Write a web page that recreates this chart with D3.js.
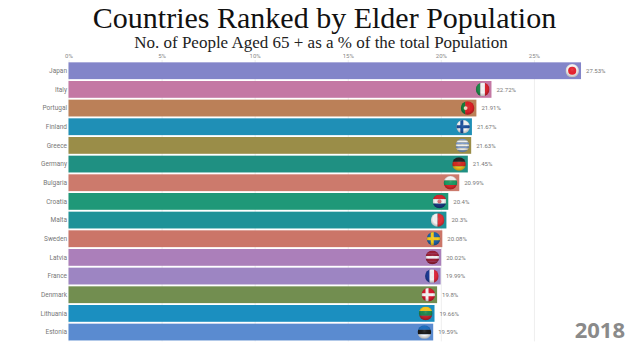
<!DOCTYPE html>
<html>
<head>
<meta charset="utf-8">
<script src="https://cdn.jsdelivr.net/npm/d3@7"></script>
<style>
  html, body { margin: 0; padding: 0; background: #fff; }
  svg { display: block; }
  .tick text { font-family: Roboto, sans-serif; }
</style>
</head>
<body>
<div id="chart"></div>
<script>
// Values
var countries = ["Japan", "Italy", "Portugal", "Finland", "Greece", "Germany", "Bulgaria", "Croatia", "Malta", "Sweden", "Latvia", "France", "Denmark", "Lithuania", "Estonia"];
var shares = [27.53, 22.72, 21.91, 21.67, 21.63, 21.45, 20.99, 20.4, 20.3, 20.08, 20.02, 19.99, 19.8, 19.66, 19.59];
var barColors = ["#8385c9", "#c478a4", "#bb8058", "#1f8fb6", "#9a8d48", "#1f9082", "#cc7a6c", "#1f9878", "#1f9298", "#cb7568", "#ab7fba", "#9d85c2", "#728e50", "#1b8fc0", "#5a8bd0"];
var tickValues = [0, 5, 10, 15, 20, 25];
var year = "2018";

// Flag colours, stripes run "h" or "v", cross and disc are drawn on top
var flags = {
    Japan: { dir: "h", stripes: ["#f4f4f4"], disc: "#e8222e", discSize: 0.6 },
    Italy: { dir: "v", stripes: ["#1f8a4c", "#f6f6f6", "#d8232e"] },
    Portugal: { dir: "v", stripes: ["#14803c", "#dc1f26", "#dc1f26"], disc: "#f0d8c0", discSize: 0.28, discX: -2 },
    Finland: { dir: "h", stripes: ["#f4f4f4"], cross: "#1c4f9c" },
    Greece: { dir: "h", stripes: ["#7d9ccf", "#f4f4f4", "#7d9ccf", "#f4f4f4", "#7d9ccf", "#f4f4f4", "#7d9ccf"] },
    Germany: { dir: "h", stripes: ["#222222", "#d22a20", "#eec21c"] },
    Bulgaria: { dir: "h", stripes: ["#f4f4f4", "#1c9a63", "#d8262a"] },
    Croatia: { dir: "h", stripes: ["#d8262e", "#f4f4f4", "#1c3a84"], disc: "#d86a70", discSize: 0.3 },
    Malta: { dir: "v", stripes: ["#f4f4f4", "#e0323a"] },
    Sweden: { dir: "h", stripes: ["#1f62a8"], cross: "#f6cc1c" },
    Latvia: { dir: "h", stripes: ["#9c2038", "#9c2038", "#f4f4f4", "#9c2038", "#9c2038"] },
    France: { dir: "v", stripes: ["#1c3a94", "#f4f4f4", "#e0283a"] },
    Denmark: { dir: "h", stripes: ["#d8192e"], cross: "#f6f6f6" },
    Lithuania: { dir: "h", stripes: ["#f6c51e", "#1f8a4c", "#c8242e"] },
    Estonia: { dir: "h", stripes: ["#1f6fc0", "#1a1a1a", "#f4f4f4"] }
};

var width = 640;
var height = 360;
var flagRadius = 6.8;

var svg = d3.select("#chart").append("svg")
    .attr("width", width)
    .attr("height", height);

var defs = svg.append("defs");

// Shading that makes the flags look like little balls
var gloss = defs.append("radialGradient")
    .attr("id", "gloss")
    .attr("cx", "50%").attr("cy", "42%").attr("r", "60%");
gloss.append("stop").attr("offset", "0%").attr("stop-color", "#fff").attr("stop-opacity", 0.12);
gloss.append("stop").attr("offset", "55%").attr("stop-color", "#000").attr("stop-opacity", 0);
gloss.append("stop").attr("offset", "100%").attr("stop-color", "#000").attr("stop-opacity", 0.3);

defs.append("clipPath").attr("id", "flag-clip")
    .append("circle").attr("r", flagRadius);

var x = d3.scaleLinear().domain([0, 30]).range([68.5, 627]);
var y = d3.scaleBand().domain(countries)
    .range([61.4, 341.4])
    .paddingInner(0.1)
    .paddingOuter(0.05);

// Titles
svg.append("text")
    .attr("x", 324.5).attr("y", 28)
    .attr("text-anchor", "middle")
    .style("font-family", "'Liberation Serif', serif")
    .style("font-size", "30px")
    .style("fill", "#111")
    .text("Countries Ranked by Elder Population");

svg.append("text")
    .attr("x", 321).attr("y", 47.5)
    .attr("text-anchor", "middle")
    .style("font-family", "'Liberation Serif', serif")
    .style("font-size", "17px")
    .style("fill", "#222")
    .text("No. of People Aged 65 + as a % of the total Population");

// Axis on top, the tick lines run down as a faint grid
var axis = d3.axisTop(x)
    .tickValues(tickValues)
    .tickFormat(function(d) { return d + "%"; })
    .tickSize(-(y.range()[1] - 60))
    .tickPadding(2);

var axisG = svg.append("g")
    .attr("transform", "translate(0,60)")
    .call(axis);
axisG.select(".domain").remove();
axisG.selectAll(".tick line").attr("stroke", "#eeeeee");
axisG.selectAll(".tick text")
    .style("font-size", "6px")
    .style("fill", "#888");

// Bars
var rows = svg.selectAll(".row")
    .data(countries)
    .enter().append("g")
    .attr("class", "row");

rows.append("rect")
    .attr("x", x(0))
    .attr("y", function(d) { return y(d); })
    .attr("width", function(d, i) { return x(shares[i]) - x(0); })
    .attr("height", y.bandwidth())
    .attr("fill", function(d, i) { return barColors[i]; });

// Country names
rows.append("text")
    .attr("x", x(0) - 1.5)
    .attr("y", function(d) { return y(d) + y.bandwidth() / 2; })
    .attr("dy", "0.35em")
    .attr("text-anchor", "end")
    .style("font-family", "Roboto, sans-serif")
    .style("font-size", "6.5px")
    .style("fill", "#777")
    .text(function(d) { return d; });

// Values next to the bars
rows.append("text")
    .attr("x", function(d, i) { return x(shares[i]) + 5; })
    .attr("y", function(d) { return y(d) + y.bandwidth() / 2; })
    .attr("dy", "0.35em")
    .style("font-family", "Roboto, sans-serif")
    .style("font-size", "6px")
    .style("fill", "#777")
    .text(function(d, i) { return shares[i] + "%"; });

// Flags
var flag = rows.append("g")
    .attr("transform", function(d, i) {
        return "translate(" + (x(shares[i]) - flagRadius - 2) + "," + (y(d) + y.bandwidth() / 2) + ")";
    });

var flagInner = flag.append("g").attr("clip-path", "url(#flag-clip)");

flagInner.each(function(country) {
    var f = flags[country];
    var g = d3.select(this);
    var d = flagRadius * 2;
    var stripe = d3.scaleBand().domain(d3.range(f.stripes.length)).range([-flagRadius, flagRadius]);

    g.selectAll("rect.stripe")
        .data(f.stripes)
        .enter().append("rect")
        .attr("class", "stripe")
        .attr("x", function(c, i) { return f.dir === "v" ? stripe(i) : -flagRadius; })
        .attr("y", function(c, i) { return f.dir === "h" ? stripe(i) : -flagRadius; })
        .attr("width", f.dir === "v" ? stripe.bandwidth() : d)
        .attr("height", f.dir === "h" ? stripe.bandwidth() : d)
        .attr("fill", function(c) { return c; });

    if (f.cross) {
        g.append("rect").attr("x", -flagRadius).attr("y", -1.5).attr("width", d).attr("height", 3).attr("fill", f.cross);
        g.append("rect").attr("x", -2.8).attr("y", -flagRadius).attr("width", 3).attr("height", d).attr("fill", f.cross);
    }
    if (f.disc) {
        g.append("circle")
            .attr("cx", f.discX || 0)
            .attr("r", flagRadius * f.discSize)
            .attr("fill", f.disc);
    }
});

flag.append("circle")
    .attr("r", flagRadius)
    .attr("fill", "url(#gloss)");

// Year in the corner
svg.append("text")
    .attr("x", 625).attr("y", 338)
    .attr("text-anchor", "end")
    .style("font-family", "'Open Sans', sans-serif")
    .style("font-weight", "700")
    .style("font-size", "22px")
    .style("fill", "#8a8a8a")
    .text(year);
</script>
</body>
</html>
